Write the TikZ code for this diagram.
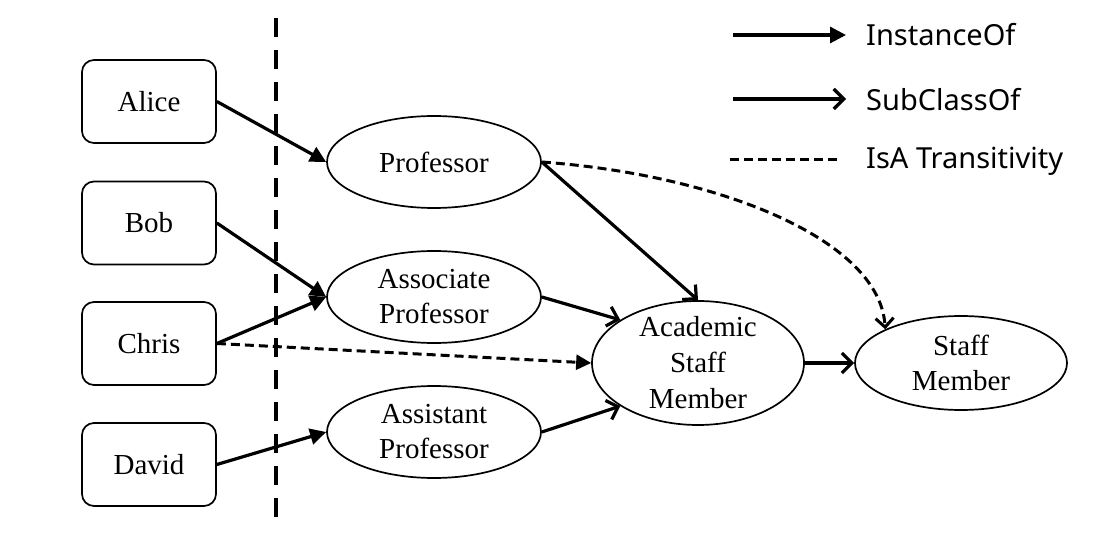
\documentclass[tikz,border=0pt]{standalone}
\usepackage{fontspec}
\setmainfont{Liberation Serif}
\newfontfamily\legfont{Noto Sans}
\usetikzlibrary{arrows.meta,shapes.geometric}
\begin{document}
\begin{tikzpicture}[x=1pt,y=-1pt,
  person/.style={draw,line width=1.7pt,rounded corners=12pt,minimum width=134pt,minimum height=83pt,inner sep=0pt,font=\fontsize{29}{35}\selectfont},
  cls/.style={draw,ellipse,line width=1.7pt,inner sep=0pt,align=center,font=\fontsize{29}{35}\selectfont},
  inst/.style={line width=3.2pt,-{Triangle[length=16pt,width=16pt]}},
  sub/.style={line width=3.2pt,-{Straight Barb[length=10pt,width=20pt,line width=3.2pt]}},
  isa/.style={line width=3pt,dash pattern=on 9pt off 5pt},
  leg/.style={anchor=west,inner sep=0pt,font=\legfont\fontsize{29}{33}\selectfont}]
\useasboundingbox (0,0) rectangle (1113,537);
% separator
\draw[line width=4.5pt,dash pattern=on 19pt off 13pt] (276,18) -- (276,517);
% persons
\node[person] (alice) at (149,101.5) {Alice};
\node[person] (bob) at (149,223) {Bob};
\node[person] (chris) at (149,343.5) {Chris};
\node[person] (david) at (149,464.5) {David};
% classes
\node[cls,minimum width=214pt,minimum height=92pt] (prof) at (434,162) {Professor};
\node[cls,minimum width=214pt,minimum height=92pt] (assoc) at (434,297) {Associate\\Professor};
\node[cls,minimum width=214pt,minimum height=92pt] (assist) at (434,432) {Assistant\\Professor};
\node[cls,minimum width=212pt,minimum height=124pt,inner ysep=-6pt,font=\fontsize{29}{36}\selectfont] (acad) at (698,363) {Academic\\Staff\\Member};
\node[cls,minimum width=212pt,minimum height=94pt] (staff) at (961,363) {Staff\\Member};
% instance edges
\draw[inst] (alice.east) -- (prof.west);
\draw[inst] (bob.east) -- (assoc.west);
\draw[inst] (chris.east) -- (assoc.west);
\draw[inst] (david.east) -- (assist.west);
% subclass edges
\draw[sub] (prof.east) -- (acad.north);
\draw[sub] (assoc.east) -- (acad.151);
\draw[sub] (assist.east) -- (acad.209);
\draw[sub] (acad.east) -- (staff.west);
% transitivity
\draw[isa,-{Triangle[length=15pt,width=15pt]}] (chris.east) -- (acad.west);
\draw[isa,-{Straight Barb[length=9pt,width=18pt,line width=3pt]}] (prof.east) .. controls (720,175) and (880,240) .. (staff.156);
% legend
\coordinate (l1a) at (733,35); \coordinate (l1b) at (846,35);
\coordinate (l2a) at (733,99); \coordinate (l2b) at (846,99);
\coordinate (l3a) at (730,160); \coordinate (l3b) at (838,160);
\draw[inst] (l1a) -- (l1b);
\draw[sub] (l2a) -- (l2b);
\draw[isa] (l3a) -- (l3b);
\node[leg] (t1) at (866,35) {InstanceOf};
\node[leg] (t2) at (866,100) {SubClassOf};
\node[leg] (t3) at (866,161) {IsA Transitivity};
\end{tikzpicture}
\end{document}
